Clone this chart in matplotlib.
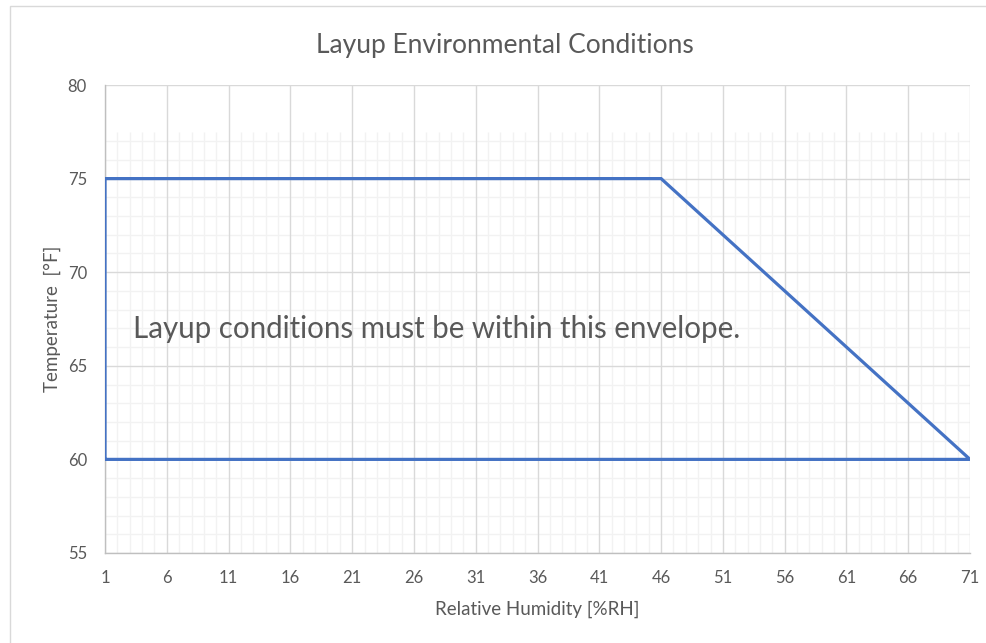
import matplotlib.pyplot as plt
from matplotlib.patches import Rectangle

# envelope corners (relative humidity, temperature)
rh = [1, 1, 46, 71, 1]
temp = [60, 75, 75, 60, 60]

x_ticks = list(range(1, 72, 5))
y_ticks = [55, 60, 65, 70, 75, 80]

plt.rcParams['font.family'] = ['Lato', 'DejaVu Sans']
txt = '#595959'

fig = plt.figure(figsize=(9.87, 6.43), dpi=100)
ax = fig.add_axes([0.1064, 0.140, 0.8764, 0.7278])

# chart area border
fig.patches.append(Rectangle((10 / 987, -0.05), 1.2, 1 - 6 / 643 + 0.05,
                             transform=fig.transFigure, fill=False,
                             edgecolor='#D9D9D9', lw=1, zorder=0))

# minor grid (stops a bit below the top, as in the original)
minor_x = [v for v in range(1, 72) if (v - 1) % 5 != 0]
minor_y = [v for v in range(56, 78) if v % 5 != 0]
ax.vlines(minor_x, 55, 77.5, colors='#F2F2F2', lw=1, zorder=0)
ax.hlines(minor_y, 1, 71, colors='#F2F2F2', lw=1, zorder=0)

# major grid
ax.vlines(x_ticks, 55, 80, colors='#D9D9D9', lw=1, zorder=1)
ax.hlines(y_ticks, 1, 71, colors='#D9D9D9', lw=1, zorder=1)

ax.plot(rh, temp, color='#4472C4', lw=2.3, zorder=3, solid_joinstyle='miter')

ax.set_xlim(1, 71)
ax.set_ylim(55, 80)
ax.set_xticks(x_ticks)
ax.set_yticks(y_ticks)
ax.tick_params(length=0, labelsize=12, colors=txt)
ax.tick_params(axis='x', pad=12)
ax.tick_params(axis='y', pad=13)

for s in ['top', 'right']:
    ax.spines[s].set_visible(False)
for s in ['left', 'bottom']:
    ax.spines[s].set_color('#BFBFBF')
    ax.spines[s].set_linewidth(1)

ax.set_xlabel('Relative Humidity [%RH]', fontsize=13.5, color=txt, va='center')
ax.set_ylabel('Temperature  [°F]', fontsize=13.5, color=txt, va='center')
ax.xaxis.set_label_coords(0.5, -0.12)
ax.yaxis.set_label_coords(-0.061, 0.5)

fig.text(0.5117, 1 - 53 / 643, 'Layup Environmental Conditions', ha='center',
         va='baseline', fontsize=19, color=txt)

ax.text(3.27, 66.48, 'Layup conditions must be within this envelope.', fontsize=21.25,
        color=txt, va='baseline', ha='left', zorder=4)

fig.savefig('out.png', dpi=100)
